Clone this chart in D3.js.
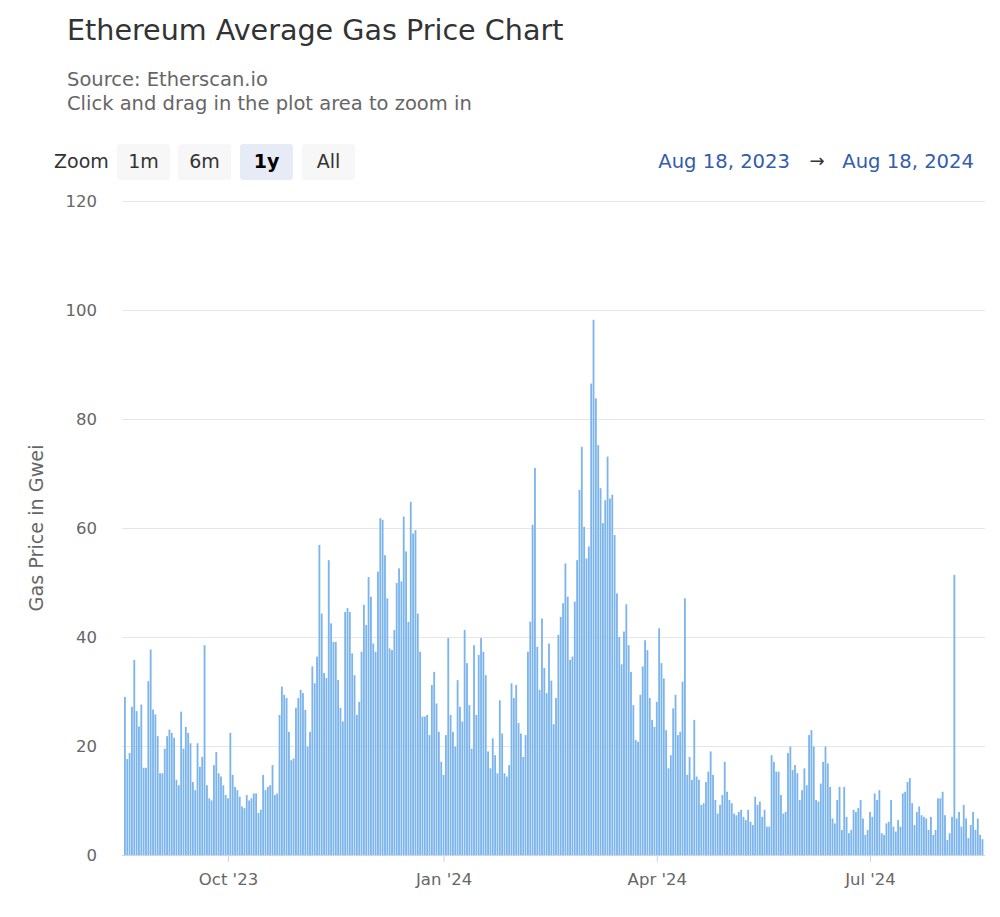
<!DOCTYPE html>
<html>
<head>
<meta charset="utf-8">
<script src="https://cdn.jsdelivr.net/npm/d3@7"></script>
<style>
  html, body { margin: 0; padding: 0; background: #fff; }
  svg { display: block; font-family: "DejaVu Sans", sans-serif; }
</style>
</head>
<body>
<svg id="chart" width="1000" height="917"></svg>
<script>
// ---- Data ----
const startDate = "2023-08-18";
const gasPrices = [
  29, 17.6, 18.7, 27.2, 35.8, 26.4, 23.6, 27.6, 16, 16,
  31.9, 37.7, 26.7, 25.8, 21.8, 15, 15, 19.5, 21.8, 23,
  22.4, 21.5, 13.8, 12.8, 26.3, 19.5, 23.5, 22.4, 20.5, 13.4,
  11.9, 20.5, 16.2, 18, 38.5, 12.8, 10.4, 10, 16.5, 18.9,
  15, 14.4, 12.8, 11, 10.4, 22.4, 14.7, 12.5, 11.9, 10.7,
  8.9, 8.6, 11, 10, 10.4, 11.3, 11.3, 7.7, 8.3, 14.7,
  11.9, 12.5, 12.8, 16.5, 11, 11.3, 25.7, 30.9, 29.4, 28.8,
  22.6, 17.4, 17.7, 27, 28.8, 30.3, 29.7, 26.6, 19.9, 22.6,
  34.6, 31.5, 36.4, 56.9, 44.3, 33.4, 32.5, 54.1, 42.5, 39.1,
  39.1, 32.1, 27, 24.5, 44.6, 45.3, 44.6, 37, 33, 25.7,
  28.1, 37.3, 45.9, 42.2, 51, 47.4, 38.8, 37.3, 52, 61.8,
  61.5, 55, 47.1, 37.9, 37.6, 41.3, 49.9, 52.6, 50.2, 62.1,
  55.7, 42.8, 64.8, 59, 59.6, 44.3, 37.3, 25.4, 25.4, 25.7,
  22, 31.2, 33.6, 27.8, 22.6, 17.1, 14.7, 22, 39.8, 25.7,
  22.6, 19.9, 32.1, 27.2, 24.5, 41.3, 35.2, 27.5, 19.5, 38.5,
  25.7, 36.7, 39.8, 37.3, 33, 19, 15.9, 21.4, 18.3, 15,
  28.4, 22.3, 15, 14.4, 16.5, 31.5, 28.8, 31.2, 24.2, 22.3,
  18, 22, 37.3, 42.8, 60.6, 71, 38.2, 30.3, 43.4, 34.3,
  29.7, 38.8, 32, 24, 28.8, 40.4, 43.7, 46.2, 53.5, 47.4,
  35.8, 36.4, 46.5, 54.1, 67, 74.9, 60.2, 54.4, 56.6, 86.5,
  98.2, 83.8, 75.2, 67.3, 60.9, 65.1, 73.1, 65.4, 66.1, 58.7,
  48, 40, 35, 41, 46, 38.5, 33.6, 27.5, 21.1, 20.8,
  29.4, 34.6, 39.4, 37.6, 28.8, 24.8, 23.5, 28.1, 41.6, 35.2,
  32.4, 22.9, 15.9, 18.3, 26.9, 29.4, 22, 22.6, 31.8, 47.1,
  14.7, 18, 13.8, 24.8, 14.4, 13.8, 9.2, 9.5, 13.4, 15.3,
  19, 14.7, 10.1, 7.6, 9.2, 11, 17.1, 11.6, 10.1, 9.5,
  7.6, 7.3, 7.9, 8.3, 7, 6.4, 8.3, 6.1, 5.5, 10.7,
  9.2, 9.8, 7, 8.3, 5.2, 5.2, 18.3, 17.1, 15.3, 15.3,
  11, 7.6, 7.9, 18.7, 19.9, 15.6, 16.5, 15, 10.1, 11.9,
  15.9, 12.8, 22, 22.9, 19.9, 10.1, 9.8, 13.1, 17.1, 19.9,
  16.8, 12.5, 6.7, 5.8, 10.1, 12.5, 4.6, 12.5, 7, 4,
  4.6, 8.3, 7.9, 8.6, 10.1, 6.7, 3.7, 4.6, 7.9, 7,
  11.3, 10.1, 11.9, 4, 3.7, 5.8, 6.1, 10.1, 5.2, 4.3,
  6.4, 5.2, 11.3, 11.6, 13.4, 14.1, 9.5, 5.5, 7.9, 8.9,
  7.3, 7, 6.7, 4.6, 7, 3.7, 4.6, 10.4, 10.4, 11.6,
  7.3, 2.75, 4, 7, 51.4, 6.7, 7.9, 5.2, 9.2, 6.7,
  3.1, 5.5, 7.9, 4.6, 6.7, 3.7, 2.9
];
const yTicks = [0, 20, 40, 60, 80, 100, 120];
const xTickDates = ["2023-10-01", "2024-01-01", "2024-04-01", "2024-07-01"];
const xTickLabels = ["Oct '23", "Jan '24", "Apr '24", "Jul '24"];
const zoomButtons = ["1m", "6m", "1y", "All"];
const selectedButton = "1y";
const rangeFrom = "Aug 18, 2023";
const rangeTo = "Aug 18, 2024";
const titleText = "Ethereum Average Gas Price Chart";
const subtitleLines = ["Source: Etherscan.io", "Click and drag in the plot area to zoom in"];
const yAxisTitle = "Gas Price in Gwei";

// ---- Build ----
const FONT = "DejaVu Sans, sans-serif";
const parse = d3.utcParse("%Y-%m-%d");
const t0 = parse(startDate);
const data = gasPrices.map((v, i) => ({ date: d3.utcDay.offset(t0, i), value: v }));

const svg = d3.select("#chart");
const plot = { left: 122, right: 985, top: 201, bottom: 855 };

const x = d3.scaleUtc()
  .domain([parse("2023-10-01"), parse("2024-07-01")])
  .range([228, 870]);
const y = d3.scaleLinear().domain([0, 120]).range([plot.bottom, plot.top]);

const dayW = x(d3.utcDay.offset(t0, 1)) - x(t0);
const barW = dayW * 0.78;

// Title
svg.append("text").attr("x", 67).attr("y", 40)
  .attr("font-size", 28.6).attr("fill", "#333").text(titleText);
subtitleLines.forEach((s, i) => {
  svg.append("text").attr("x", 67).attr("y", 86 + i * 24)
    .attr("font-size", 19.5).attr("fill", "#666").text(s);
});

// Range selector
svg.append("text").attr("x", 54).attr("y", 168)
  .attr("font-size", 19).attr("fill", "#333").text("Zoom");
const btnX = [117, 178, 240, 302];
zoomButtons.forEach((b, i) => {
  const g = svg.append("g");
  const sel = b === selectedButton;
  g.append("rect").attr("x", btnX[i]).attr("y", 144).attr("width", 53).attr("height", 36)
    .attr("rx", 3).attr("fill", sel ? "#e6ebf5" : "#f7f7f7");
  g.append("text").attr("x", btnX[i] + 26.5).attr("y", 168).attr("text-anchor", "middle")
    .attr("font-size", 19).attr("font-weight", sel ? "bold" : "normal")
    .attr("fill", sel ? "#000" : "#333").text(b);
});
svg.append("text").attr("x", 790).attr("y", 168).attr("text-anchor", "end")
  .attr("font-size", 19.6).attr("fill", "#335cad").text(rangeFrom);
svg.append("text").attr("x", 817).attr("y", 167).attr("text-anchor", "middle")
  .attr("font-size", 18).attr("fill", "#333").text("→");
svg.append("text").attr("x", 974).attr("y", 168).attr("text-anchor", "end")
  .attr("font-size", 19.6).attr("fill", "#335cad").text(rangeTo);

// Gridlines + y labels
const yAxis = d3.axisLeft(y).tickValues(yTicks).tickSize(-(plot.right - plot.left)).tickPadding(25);
const gy = svg.append("g").attr("transform", `translate(${plot.left},0)`).call(yAxis);
gy.select(".domain").remove();
gy.selectAll(".tick line").attr("stroke", "#e6e6e6");
gy.selectAll(".tick text").attr("font-size", 16.5).attr("fill", "#666")
  .attr("font-family", FONT);

svg.append("text")
  .attr("transform", `translate(43,528) rotate(-90)`)
  .attr("text-anchor", "middle").attr("font-size", 19.2).attr("fill", "#666")
  .text(yAxisTitle);

// Bars
svg.append("g").selectAll("rect").data(data).join("rect")
  .attr("x", d => x(d.date) - barW / 2)
  .attr("y", d => y(d.value))
  .attr("width", barW)
  .attr("height", d => y(0) - y(d.value))
  .attr("fill", "#7cb5ec");

// X axis
const fmtMap = new Map(xTickDates.map((d, i) => [+parse(d), xTickLabels[i]]));
const xAxis = d3.axisBottom(x).tickValues(xTickDates.map(parse))
  .tickFormat(d => fmtMap.get(+d)).tickSize(7).tickPadding(11);
const gx = svg.append("g").attr("transform", `translate(0,${plot.bottom})`).call(xAxis);
gx.select(".domain").attr("d", `M${plot.left},0.5H${plot.right}`).attr("stroke", "#ccd6eb");
gx.selectAll(".tick line").attr("stroke", "#ccd6eb");
gx.selectAll(".tick text").attr("font-size", 16.5).attr("fill", "#666")
  .attr("font-family", FONT);
</script>
</body>
</html>
